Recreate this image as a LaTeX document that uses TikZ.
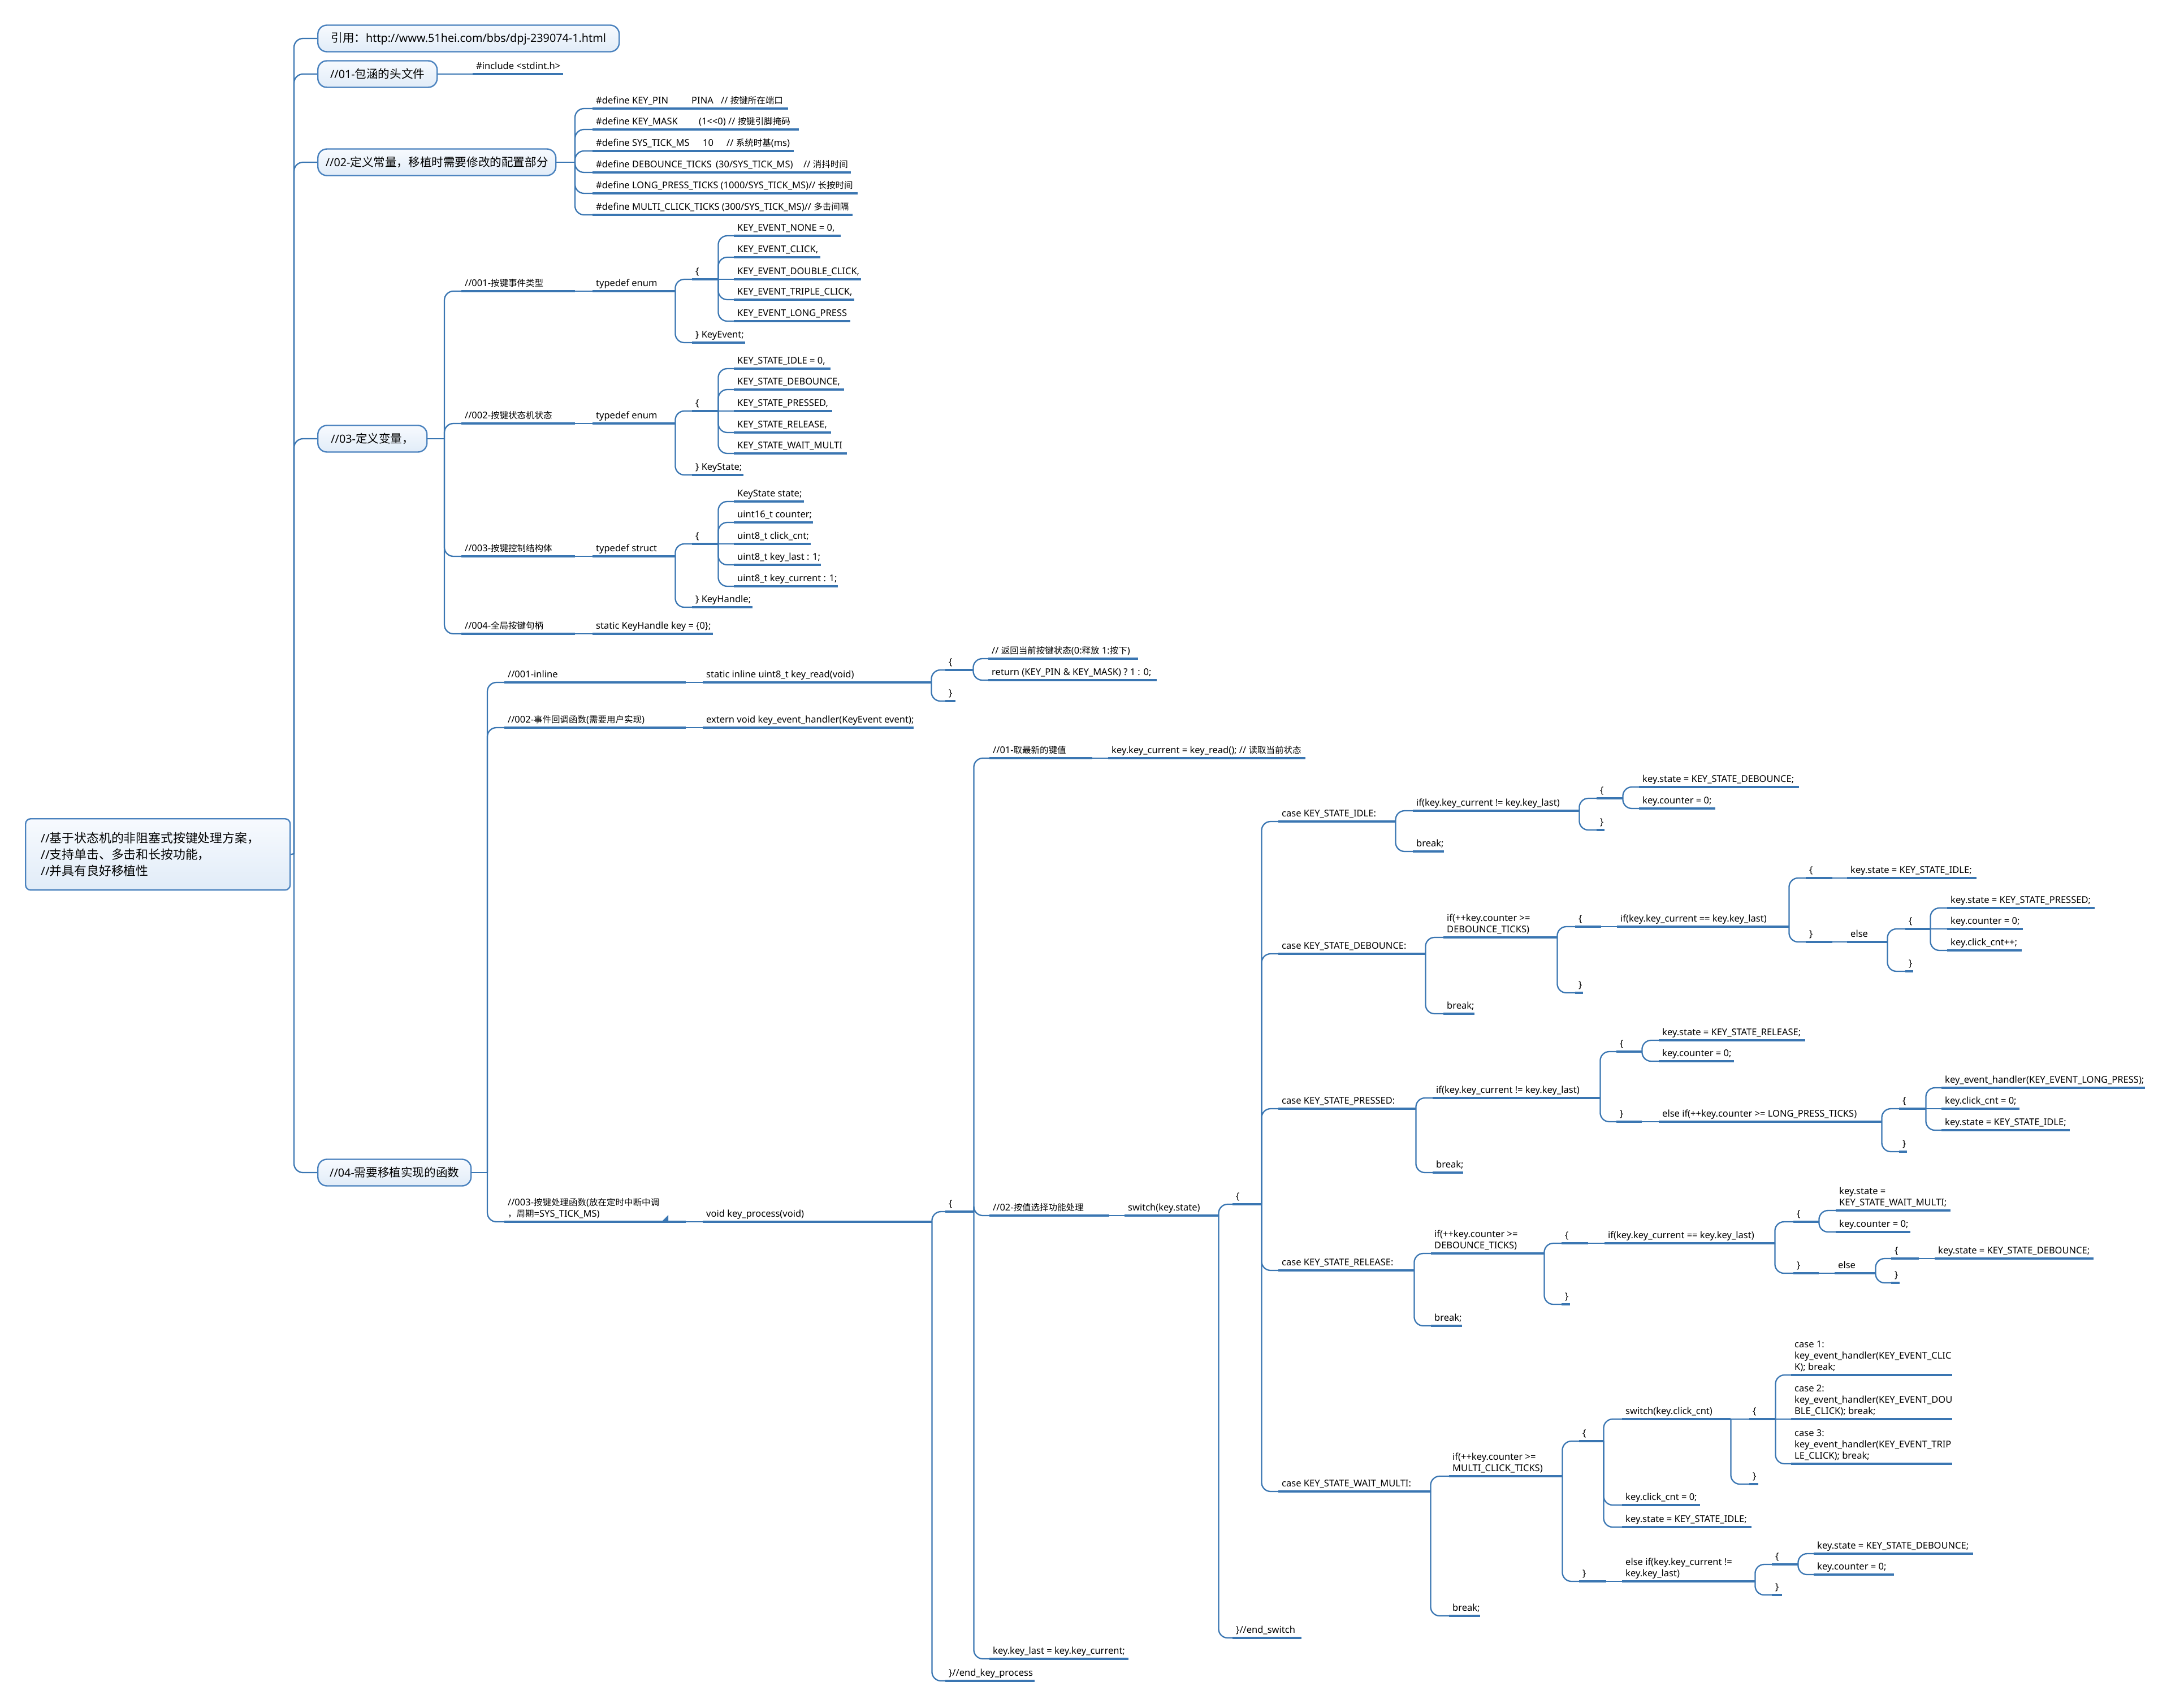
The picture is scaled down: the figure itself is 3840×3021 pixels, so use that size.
\documentclass[tikz,border=0pt]{standalone}
\usepackage{fontspec}
\setmainfont{Noto Sans}
\newfontfamily\cjkf[Scale=0.94]{Noto Sans CJK SC}
\newfontfamily\cjkgf[Scale=1.04]{Noto Sans CJK SC}
\newcommand\cjk[1]{{\cjkf #1}}
\newcommand\cjkL[1]{{\cjkgf #1}}
\definecolor{linecol}{RGB}{58,118,178}
\definecolor{boxcol}{RGB}{74,130,190}
\definecolor{boxtop}{RGB}{247,250,254}
\definecolor{boxbot}{RGB}{225,236,248}
\newcommand\codefont{\fontsize{16.5}{20}\selectfont}
\newcommand\lonefont{\fontsize{19.8}{25}\selectfont}
\newcommand\rootfont{\fontsize{21}{29}\selectfont}
\newcommand\tnode[5]{\node[tp] (#1) at (#2,#3) {\hbox to \dimexpr#4pt-#2pt\relax{\hskip6pt #5\hss}};\draw[uline] (#1.south west) -- (#1.south east);}
\newcommand\mnode[5]{\node[tp] (#1) at (#2,#3) {\hbox to \dimexpr#4pt-#2pt\relax{\hskip6pt\parbox[b]{600pt}{\raggedright #5}\hss}};\draw[uline] (#1.south west) -- (#1.south east);}
\newcommand\lnk[2]{\draw[conn] (#1.south east) |- (#2.south west);}
\newcommand\lns[2]{\draw[conn] (#1.south east) -- (#2.south west);}
\begin{document}
\begin{tikzpicture}[x=1pt,y=-1pt,
  conn/.style={draw=linecol, line width=2.3pt, rounded corners=16pt},
  uline/.style={draw=linecol, line width=3.2pt},
  tp/.style={anchor=south west, inner sep=0pt, inner ysep=2pt, text depth=6pt, font=\codefont},
  lone/.style={draw=boxcol, line width=2.4pt, rounded corners=16pt, top color=boxtop, bottom color=boxbot, minimum height=47pt, inner sep=0pt, anchor=west, font=\lonefont},
  rootbox/.style={draw=boxcol, line width=2.4pt, rounded corners=9pt, top color=boxtop, bottom color=boxbot, anchor=north west, minimum width=468pt, minimum height=126pt, text width=414pt, inner xsep=27pt, align=left, font=\rootfont}]
\useasboundingbox (0,0) rectangle (3840,3021);
\fill[white] (0,0) rectangle (3840,3021);

% ---------- root and level 1 ----------
\node[rootbox] (root) at (44,1447) {//\cjkL{基于状态机的非阻塞式按键处理方案，}\\//\cjkL{支持单击、多击和长按功能，}\\//\cjkL{并具有良好移植性}};
\node[lone, minimum width=533pt] (b0) at (561,68) {\cjkL{引用：}http://www.51hei.com/bbs/dpj-239074-1.html};
\node[lone, minimum width=211pt] (b1) at (561,131) {//01-\cjkL{包涵的头文件}};
\node[lone, minimum width=421pt] (b2) at (561,287) {//02-\cjkL{定义常量，移植时需要修改的配置部分}};
\node[lone, minimum width=193pt] (b3) at (561,776) {//03-\cjkL{定义变量，}};
\node[lone, minimum width=271pt] (b4) at (561,2074) {//04-\cjkL{需要移植实现的函数}};
\draw[conn] (root.east) -- (520,1510);
\foreach \b in {b0,b1,b2,b3,b4}{\draw[conn] (520,1510) |- (\b.west);}

% ---------- 01 ----------
\tnode{inc}{836}{131}{996}{\#include <stdint.h>}
\draw[conn] (b1.east) -- (inc.south west);

% ---------- 02 ----------
\tnode{d1}{1048}{192}{1394}{\makebox[169pt][l]{\#define KEY\_PIN}\makebox[52pt][l]{PINA}// \cjk{按键所在端口}}
\tnode{d2}{1048}{229}{1413}{\makebox[182pt][l]{\#define KEY\_MASK}(1<{}<0) // \cjk{按键引脚掩码}}
\tnode{d3}{1048}{267}{1404}{\makebox[189pt][l]{\#define SYS\_TICK\_MS}\makebox[42pt][l]{10}// \cjk{系统时基}(ms)}
\tnode{d4}{1048}{305}{1505}{\makebox[212pt][l]{\#define DEBOUNCE\_TICKS}\makebox[155pt][l]{(30/SYS\_TICK\_MS)}// \cjk{消抖时间}}
\tnode{d5}{1048}{342}{1517}{\#define LONG\_PRESS\_TICKS (1000/SYS\_TICK\_MS)// \cjk{长按时间}}
\tnode{d6}{1048}{380}{1508}{\#define MULTI\_CLICK\_TICKS (300/SYS\_TICK\_MS)// \cjk{多击间隔}}
\draw[conn] (b2.east) -- (1017,287);
\foreach \c in {d1,d2,d3,d4,d5,d6}{\draw[conn] (1017,287) |- (\c.south west);}

% ---------- 03 ----------
\tnode{s1}{816}{515}{1017}{//001-\cjk{按键事件类型}}
\tnode{s1t}{1048}{515}{1194}{typedef enum}
\tnode{s1o}{1224}{494}{1270}{\{}
\tnode{s1c}{1224}{606}{1318}{\} KeyEvent;}
\tnode{e1}{1298}{417}{1487}{KEY\_EVENT\_NONE = 0,}
\tnode{e2}{1298}{455}{1451}{KEY\_EVENT\_CLICK,}
\tnode{e3}{1298}{494}{1523}{KEY\_EVENT\_DOUBLE\_CLICK,}
\tnode{e4}{1298}{530}{1511}{KEY\_EVENT\_TRIPLE\_CLICK,}
\tnode{e5}{1298}{568}{1504}{KEY\_EVENT\_LONG\_PRESS}
\tnode{s2}{816}{749}{1017}{//002-\cjk{按键状态机状态}}
\tnode{s2t}{1048}{749}{1194}{typedef enum}
\tnode{s2o}{1224}{727}{1270}{\{}
\tnode{s2c}{1224}{840}{1315}{\} KeyState;}
\tnode{t1}{1298}{652}{1469}{KEY\_STATE\_IDLE = 0,}
\tnode{t2}{1298}{689}{1493}{KEY\_STATE\_DEBOUNCE,}
\tnode{t3}{1298}{727}{1472}{KEY\_STATE\_PRESSED,}
\tnode{t4}{1298}{765}{1470}{KEY\_STATE\_RELEASE,}
\tnode{t5}{1298}{802}{1498}{KEY\_STATE\_WAIT\_MULTI}
\tnode{s3}{816}{984}{1017}{//003-\cjk{按键控制结构体}}
\tnode{s3t}{1048}{984}{1194}{typedef struct}
\tnode{s3o}{1224}{962}{1270}{\{}
\tnode{s3c}{1224}{1074}{1331}{\} KeyHandle;}
\tnode{m1}{1298}{887}{1422}{KeyState state;}
\tnode{m2}{1298}{924}{1438}{uint16\_t counter;}
\tnode{m3}{1298}{962}{1434}{uint8\_t click\_cnt;}
\tnode{m4}{1298}{999}{1452}{uint8\_t key\_last : 1;}
\tnode{m5}{1298}{1037}{1482}{uint8\_t key\_current : 1;}
\tnode{s4}{816}{1121}{1017}{//004-\cjk{全局按键句柄}}
\tnode{s4t}{1048}{1121}{1261}{static KeyHandle key = \{0\};}
\draw[conn] (b3.east) -- (786,776);
\foreach \c in {s1,s2,s3,s4}{\draw[conn] (786,776) |- (\c.south west);}
\lns{s1}{s1t}\lnk{s1t}{s1o}\lnk{s1t}{s1c}
\lnk{s1o}{e1}\lnk{s1o}{e2}\lns{s1o}{e3}\lnk{s1o}{e4}\lnk{s1o}{e5}
\lns{s2}{s2t}\lnk{s2t}{s2o}\lnk{s2t}{s2c}
\lnk{s2o}{t1}\lnk{s2o}{t2}\lns{s2o}{t3}\lnk{s2o}{t4}\lnk{s2o}{t5}
\lns{s3}{s3t}\lnk{s3t}{s3o}\lnk{s3t}{s3c}
\lnk{s3o}{m1}\lnk{s3o}{m2}\lns{s3o}{m3}\lnk{s3o}{m4}\lnk{s3o}{m5}
\lns{s4}{s4t}

% ---------- 04 ----------
\tnode{f1}{892}{1207}{1213}{//001-inline}
\tnode{f1t}{1243}{1207}{1647}{static inline uint8\_t key\_read(void)}
\tnode{f1o}{1672}{1185}{1721}{\{}
\tnode{f1c}{1672}{1240}{1690}{\}}
\tnode{f1a}{1748}{1165}{2013}{// \cjk{返回当前按键状态}(0:\cjk{释放} 1:\cjk{按下})}
\tnode{f1b}{1748}{1203}{2046}{return (KEY\_PIN \& KEY\_MASK) ? 1 : 0;}
\tnode{f2}{892}{1287}{1213}{//002-\cjk{事件回调函数}(\cjk{需要用户实现})}
\tnode{f2t}{1243}{1287}{1616}{extern void key\_event\_handler(KeyEvent event);}
\mnode{f3}{892}{2161}{1213}{//003-\cjk{按键处理函数}(\cjk{放在定时中断中调}\\\cjk{，周期}=SYS\_TICK\_MS)}
\tnode{f3t}{1243}{2161}{1648}{void key\_process(void)}
\fill[linecol] (1171,2160) -- (1182,2160) -- (1182,2149) -- cycle;
\draw[conn] (b4.east) -- (862,2074);
\foreach \c in {f1,f2,f3}{\draw[conn] (862,2074) |- (\c.south west);}
\lns{f1}{f1t}\lnk{f1t}{f1o}\lnk{f1t}{f1c}\lnk{f1o}{f1a}\lnk{f1o}{f1b}
\lns{f2}{f2t}\lns{f3}{f3t}

\tnode{po}{1672}{2143}{1722}{\{}
\tnode{pc}{1672}{2973}{1830}{\}//end\_key\_process}
\tnode{p1}{1750}{1341}{1932}{//01-\cjk{取最新的键值}}
\tnode{p1t}{1960}{1341}{2309}{key.key\_current = key\_read(); // \cjk{读取当前状态}}
\tnode{p2}{1750}{2150}{1962}{//02-\cjk{按值选择功能处理}}
\tnode{p2t}{1989}{2150}{2155}{switch(key.state)}
\tnode{p3}{1750}{2934}{1996}{key.key\_last = key.key\_current;}
\tnode{so}{2180}{2130}{2231}{\{}
\tnode{sc}{2180}{2897}{2302}{\}//end\_switch}
\lnk{f3t}{po}\lnk{f3t}{pc}\lnk{po}{p1}\lnk{po}{p2}\lnk{po}{p3}
\lns{p1}{p1t}\lns{p2}{p2t}\lnk{p2t}{so}\lnk{p2t}{sc}

% case IDLE
\tnode{c1}{2261}{1453}{2468}{case KEY\_STATE\_IDLE:}
\tnode{c1i}{2499}{1434}{2793}{if(key.key\_current != key.key\_last)}
\tnode{c1b}{2499}{1506}{2554}{break;}
\tnode{c1o}{2824}{1412}{2870}{\{}
\tnode{c1c}{2824}{1468}{2838}{\}}
\tnode{c1a}{2899}{1392}{3182}{key.state = KEY\_STATE\_DEBOUNCE;}
\tnode{c1d}{2899}{1430}{3034}{key.counter = 0;}
\lnk{c1}{c1i}\lnk{c1}{c1b}\lnk{c1i}{c1o}\lnk{c1i}{c1c}\lnk{c1o}{c1a}\lnk{c1o}{c1d}

% case DEBOUNCE
\tnode{c2}{2261}{1687}{2521}{case KEY\_STATE\_DEBOUNCE:}
\mnode{c2i}{2553}{1658}{2754}{if(++key.counter >=\\DEBOUNCE\_TICKS)}
\tnode{c2b}{2553}{1793}{2608}{break;}
\tnode{c2o}{2786}{1639}{2832}{\{}
\tnode{c2c}{2786}{1756}{2800}{\}}
\tnode{c2ii}{2860}{1639}{3164}{if(key.key\_current == key.key\_last)}
\tnode{c2io}{3194}{1553}{3241}{\{}
\tnode{c2ic}{3194}{1666}{3241}{\}}
\tnode{c2ia}{3267}{1553}{3496}{key.state = KEY\_STATE\_IDLE;}
\tnode{c2e}{3267}{1666}{3338}{else}
\tnode{c2eo}{3370}{1643}{3414}{\{}
\tnode{c2ec}{3370}{1718}{3384}{\}}
\tnode{c2e1}{3444}{1606}{3705}{key.state = KEY\_STATE\_PRESSED;}
\tnode{c2e2}{3444}{1643}{3578}{key.counter = 0;}
\tnode{c2e3}{3444}{1681}{3576}{key.click\_cnt++;}
\lnk{c2}{c2i}\lnk{c2}{c2b}\lnk{c2i}{c2o}\lnk{c2i}{c2c}\lns{c2o}{c2ii}
\lnk{c2ii}{c2io}\lnk{c2ii}{c2ic}\lns{c2io}{c2ia}\lns{c2ic}{c2e}
\lnk{c2e}{c2eo}\lnk{c2e}{c2ec}\lnk{c2eo}{c2e1}\lns{c2eo}{c2e2}\lnk{c2eo}{c2e3}

% case PRESSED
\tnode{c3}{2261}{1961}{2504}{case KEY\_STATE\_PRESSED:}
\tnode{c3i}{2534}{1942}{2830}{if(key.key\_current != key.key\_last)}
\tnode{c3b}{2534}{2074}{2588}{break;}
\tnode{c3o}{2859}{1860}{2904}{\{}
\tnode{c3c}{2859}{1984}{2904}{\}}
\tnode{c3a}{2934}{1840}{3193}{key.state = KEY\_STATE\_RELEASE;}
\tnode{c3d}{2934}{1877}{3067}{key.counter = 0;}
\tnode{c3e}{2934}{1984}{3328}{else if(++key.counter >= LONG\_PRESS\_TICKS)}
\tnode{c3eo}{3359}{1961}{3406}{\{}
\tnode{c3ec}{3359}{2037}{3373}{\}}
\tnode{c3e1}{3434}{1924}{3794}{key\_event\_handler(KEY\_EVENT\_LONG\_PRESS);}
\tnode{c3e2}{3434}{1961}{3572}{key.click\_cnt = 0;}
\tnode{c3e3}{3434}{1999}{3661}{key.state = KEY\_STATE\_IDLE;}
\lnk{c3}{c3i}\lnk{c3}{c3b}\lnk{c3i}{c3o}\lnk{c3i}{c3c}\lnk{c3o}{c3a}\lnk{c3o}{c3d}
\lns{c3c}{c3e}\lnk{c3e}{c3eo}\lnk{c3e}{c3ec}\lnk{c3eo}{c3e1}\lns{c3eo}{c3e2}\lnk{c3eo}{c3e3}

% case RELEASE
\tnode{c4}{2261}{2247}{2501}{case KEY\_STATE\_RELEASE:}
\mnode{c4i}{2531}{2217}{2731}{if(++key.counter >=\\DEBOUNCE\_TICKS)}
\tnode{c4b}{2531}{2345}{2586}{break;}
\tnode{c4o}{2762}{2199}{2809}{\{}
\tnode{c4c}{2762}{2307}{2777}{\}}
\tnode{c4ii}{2838}{2199}{3139}{if(key.key\_current == key.key\_last)}
\tnode{c4io}{3172}{2161}{3217}{\{}
\tnode{c4ic}{3172}{2252}{3217}{\}}
\mnode{c4a}{3247}{2141}{3450}{key.state =\\KEY\_STATE\_WAIT\_MULTI;}
\tnode{c4d}{3247}{2179}{3379}{key.counter = 0;}
\tnode{c4e}{3245}{2252}{3317}{else}
\tnode{c4eo}{3345}{2226}{3394}{\{}
\tnode{c4ec}{3345}{2269}{3360}{\}}
\tnode{c4e1}{3422}{2226}{3703}{key.state = KEY\_STATE\_DEBOUNCE;}
\lnk{c4}{c4i}\lnk{c4}{c4b}\lnk{c4i}{c4o}\lnk{c4i}{c4c}\lns{c4o}{c4ii}
\lnk{c4ii}{c4io}\lnk{c4ii}{c4ic}\lnk{c4io}{c4a}\lnk{c4io}{c4d}\lns{c4ic}{c4e}
\lnk{c4e}{c4eo}\lnk{c4e}{c4ec}\lns{c4eo}{c4e1}

% case WAIT_MULTI
\tnode{c5}{2261}{2638}{2530}{case KEY\_STATE\_WAIT\_MULTI:}
\mnode{c5i}{2563}{2611}{2763}{if(++key.counter >=\\MULTI\_CLICK\_TICKS)}
\tnode{c5b}{2563}{2858}{2618}{break;}
\tnode{c5o}{2793}{2549}{2836}{\{}
\tnode{c5c}{2793}{2797}{2841}{\}}
\tnode{c5s}{2869}{2510}{3061}{switch(key.click\_cnt)}
\tnode{c5k}{2869}{2662}{3007}{key.click\_cnt = 0;}
\tnode{c5t}{2869}{2701}{3098}{key.state = KEY\_STATE\_IDLE;}
\tnode{c5so}{3094}{2510}{3140}{\{}
\tnode{c5sc}{3094}{2625}{3110}{\}}
\mnode{k1}{3168}{2432}{3453}{case 1:\\key\_event\_handler(KEY\_EVENT\_CLIC\\K); break;}
\mnode{k2}{3168}{2510}{3453}{case 2:\\key\_event\_handler(KEY\_EVENT\_DOU\\BLE\_CLICK); break;}
\mnode{k3}{3168}{2589}{3453}{case 3:\\key\_event\_handler(KEY\_EVENT\_TRIP\\LE\_CLICK); break;}
\mnode{c5e}{2869}{2797}{3104}{else if(key.key\_current !=\\key.key\_last)}
\tnode{c5eo}{3134}{2767}{3180}{\{}
\tnode{c5ec}{3134}{2821}{3152}{\}}
\tnode{c5e1}{3208}{2748}{3490}{key.state = KEY\_STATE\_DEBOUNCE;}
\tnode{c5e2}{3208}{2785}{3350}{key.counter = 0;}
\lnk{c5}{c5i}\lnk{c5}{c5b}\lnk{c5i}{c5o}\lnk{c5i}{c5c}
\lnk{c5o}{c5s}\lnk{c5o}{c5k}\lnk{c5o}{c5t}
\lns{c5s}{c5so}\lnk{c5s}{c5sc}\lnk{c5so}{k1}\lns{c5so}{k2}\lnk{c5so}{k3}
\lns{c5c}{c5e}\lnk{c5e}{c5eo}\lnk{c5e}{c5ec}\lnk{c5eo}{c5e1}\lnk{c5eo}{c5e2}

\foreach \c in {c1,c2,c3,c4,c5}{\lnk{so}{\c}}
\end{tikzpicture}
\end{document}
